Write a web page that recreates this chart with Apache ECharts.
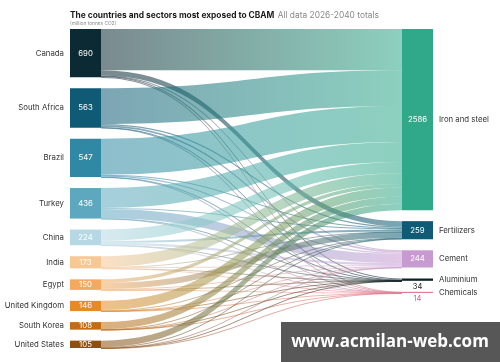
<!DOCTYPE html>
<html><head><meta charset="utf-8">
<script src="https://cdn.jsdelivr.net/npm/echarts@6/dist/echarts.min.js"></script>
<style>html,body{margin:0;padding:0;background:#fff}#c{width:500px;height:362px}</style>
</head><body><div id="c"></div>
<script>
const countries = ['Canada','South Africa','Brazil','Turkey','China','India','Egypt','United Kingdom','South Korea','United States'];
const countryTotals = [690,563,547,436,224,173,150,146,108,105];
const sectors = ['Iron and steel','Fertilizers','Cement','Aluminium','Chemicals'];
const sectorTotals = [2586,259,244,34,14];
// flows: rows = countries, columns = sectors (Iron, Fertilizers, Cement, Aluminium, Chemicals)
const flowCanada = [590,75,8,14,3];
const flowSouthAfrica = [510,18,25,7,3];
const flowBrazil = [515,10,18,3,1];
const flowTurkey = [285,15,133,2,1];
const flowChina = [161,29,30,2,2];
const flowIndia = [152,4,14,1,2];
const flowEgypt = [50,85,12,1,2];
const flowUK = [132,9,3,1,1];
const flowSouthKorea = [101,4,1,1,1];
const flowUS = [91,10,2,1,1];
const flows = [flowCanada,flowSouthAfrica,flowBrazil,flowTurkey,flowChina,flowIndia,flowEgypt,flowUK,flowSouthKorea,flowUS];

const titleBold = 'The countries and sectors most exposed to CBAM';
const titleGrey = 'All data 2026-2040 totals';
const subtitle = '(million tonnes CO2)';

const countryColors = ['#0c2a33','#0f5b75','#2f88a4','#5ea8bf','#b5d8e4','#f7c794','#f3a95f','#e68a24','#c46c14','#8f4f10'];
const sectorColors = ['#2fa98a','#0f5b75','#c79bd2','#0c1f27','#e27b95'];

const totals = {};
countries.forEach((c,i)=>totals[c]=countryTotals[i]);
sectors.forEach((s,i)=>totals[s]=sectorTotals[i]);

const FONT = 'Inter, Roboto, sans-serif';
const links = [];
countries.forEach((c,i)=>{
  sectors.forEach((s,j)=>{
    const v = flows[i][j];
    if (v>0) links.push({source:c,target:s,value:v});
  });
});

function nodes(kind){
  const arr = [];
  countries.forEach((c,i)=>{
    arr.push({name:c, itemStyle:{color:countryColors[i]},
      label: kind==='name' ? {position:'left',distance:6} : {position:'inside'}});
  });
  sectors.forEach((s,i)=>{
    let lab;
    if (kind==='name') lab = {position:'right',distance:6};
    else if (i>=3) lab = {position:'bottom', distance:2, color: i===3 ? '#222' : '#d9607e', fontSize:7.5};
    else lab = {position:'inside'};
    arr.push({name:s, itemStyle:{color:sectorColors[i]}, label:lab});
  });
  return arr;
}

const base = {
  type:'sankey', left:70, right:67, top:29, bottom:14,
  nodeWidth:31, nodeGap:11, layoutIterations:0, draggable:false,
  emphasis:{disabled:true}, links: links
};

const chart = echarts.init(document.getElementById('c'), null, {renderer:'canvas'});
chart.setOption({
  animation:false,
  series:[
    Object.assign({}, base, {
      data: nodes('value'),
      itemStyle:{borderWidth:0},
      lineStyle:{color:'gradient', opacity:0.55, curveness:0.5},
      label:{show:true, fontFamily:FONT, fontSize:7.8, color:'#fff',
        formatter:p=>totals[p.name]}
    }),
    Object.assign({}, base, {
      data: nodes('name'), silent:true,
      itemStyle:{opacity:0},
      lineStyle:{opacity:0},
      label:{show:true, fontFamily:FONT, fontSize:7.8, color:'#333', formatter:p=>p.name}
    })
  ],
  graphic:[
    {type:'text', x:70, y:15, style:{
      text:'{b|'+titleBold+'} {g|'+titleGrey+'}',
      verticalAlign:'middle', align:'left',
      rich:{
        b:{fontFamily:FONT,fontWeight:'bold',fontSize:8.4,fill:'#1a1a1a'},
        g:{fontFamily:FONT,fontSize:8.4,fill:'#8a8a8a'}
      }}},
    {type:'text', x:70, y:24, style:{text:subtitle, font:'4.8px '+FONT, fill:'#888', verticalAlign:'middle', align:'left'}},
    {type:'rect', shape:{x:281,y:322,width:219,height:40}, style:{fill:'#575757'}},
    {type:'text', x:390, y:342, style:{text:'www.acmilan-web.com', fill:'#fff', font:'bold 17px "Open Sans", sans-serif', align:'center', verticalAlign:'middle'}}
  ]
});
</script></body></html>
